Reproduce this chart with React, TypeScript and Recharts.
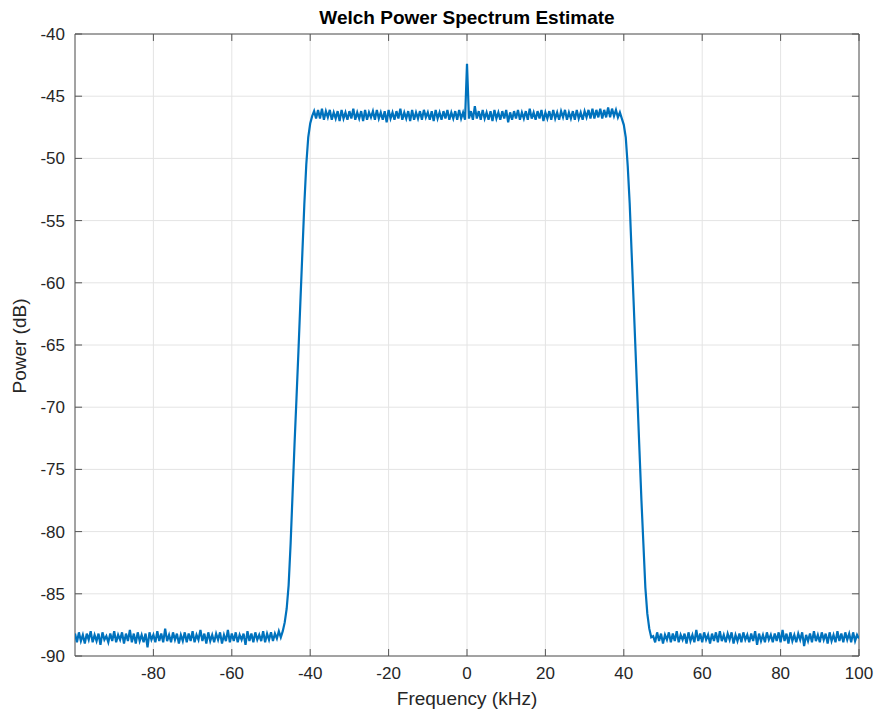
import {
  LineChart,
  Line,
  XAxis,
  YAxis,
  CartesianGrid,
  ReferenceArea,
  ReferenceLine,
} from "recharts";

// frequency spacing of the estimate (kHz)
const FREQ_STEP = 0.5;

// noise floor below the band, starting at -100 kHz
const floorLeft = [
  -88.2, -88.9, -88.1, -88.8, -88.3, -89.0, -88.2, -88.7, -88.0, -88.9,
  -88.3, -88.8, -88.2, -89.1, -88.1, -88.7, -88.4, -88.9, -88.2, -88.8,
  -88.0, -88.9, -88.3, -88.7, -88.1, -89.0, -88.2, -88.8, -87.9, -88.9,
  -88.2, -89.0, -88.1, -88.8, -88.3, -88.9, -88.2, -89.3, -88.1, -88.7,
  -88.3, -88.9, -88.0, -88.8, -88.2, -88.9, -87.8, -88.8, -88.3, -88.9,
  -88.1, -88.7, -88.2, -89.0, -88.3, -88.8, -88.1, -88.9, -88.2, -88.8,
  -88.0, -88.9, -88.3, -88.7, -87.9, -88.8, -88.2, -89.0, -88.1, -88.8,
  -88.3, -88.9, -88.2, -88.7, -88.1, -89.0, -88.3, -88.8, -87.9, -88.9,
  -88.2, -88.8, -88.1, -88.9, -88.3, -88.7, -88.2, -89.1, -88.0, -88.8,
  -88.2, -88.9, -88.1, -88.7, -88.3, -88.8, -88.0, -88.9, -88.2, -88.7,
  -88.1, -88.8, -88.2, -88.6, -88.0, -88.5,
];

// rising edge, starting at -47 kHz
const edgeLeft = [
  -88.0, -87.3, -86.2, -84.3, -81.0, -77.0, -73.0, -69.3, -65.5, -61.5,
  -57.6, -53.7, -50.5, -48.3, -47.2, -46.6, -46.2, -46.8,
];

// passband, starting at -38 kHz (carrier spike at 0)
const passband = [
  -46.1, -46.8, -46.0, -46.9, -46.2, -46.7, -46.1, -46.9, -46.3, -46.8,
  -46.2, -47.0, -46.1, -46.8, -46.3, -46.9, -46.2, -46.8, -46.0, -46.9,
  -46.3, -46.8, -46.2, -47.0, -46.1, -46.9, -46.3, -46.7, -46.2, -46.9,
  -46.1, -46.8, -46.3, -46.9, -46.2, -47.1, -46.1, -46.8, -46.3, -46.9,
  -46.2, -46.8, -46.0, -46.9, -46.3, -46.8, -46.2, -47.0, -46.1, -46.9,
  -46.3, -46.8, -46.2, -46.9, -46.1, -46.7, -46.3, -46.9, -46.2, -47.0,
  -46.1, -46.8, -46.3, -46.9, -46.2, -46.8, -46.1, -46.9, -46.3, -46.8,
  -46.2, -46.9, -46.1, -46.8, -46.3, -46.9, -42.4, -46.8, -46.2, -46.9,
  -45.8, -46.8, -46.2, -46.9, -46.1, -46.8, -46.3, -46.9, -46.2, -47.0,
  -46.1, -46.8, -46.3, -46.9, -46.2, -46.8, -46.1, -47.1, -46.3, -46.9,
  -46.2, -46.8, -46.1, -46.9, -46.3, -46.8, -46.2, -46.9, -46.0, -46.8,
  -46.3, -46.9, -46.2, -46.8, -46.1, -47.0, -46.3, -46.8, -46.2, -46.9,
  -46.1, -46.8, -46.3, -46.9, -46.2, -46.7, -46.1, -46.9, -46.3, -46.8,
  -46.2, -46.9, -46.1, -46.8, -46.3, -46.9, -46.2, -46.7, -46.1, -46.8,
  -46.0, -46.8, -46.1, -46.7, -46.0, -46.8, -46.1, -46.7, -45.9, -46.7,
  -46.0, -46.6, -46.1, -46.7,
];

// falling edge, starting at 39 kHz
const edgeRight = [
  -46.3, -46.8, -47.3, -48.3, -50.6, -53.6, -57.6, -61.5, -65.5, -69.5,
  -73.5, -77.5, -81.0, -84.5, -86.6, -87.8, -88.5,
];

// noise floor above the band, starting at 47.5 kHz
const floorRight = [
  -88.4, -88.9, -88.1, -88.8, -88.2, -89.0, -88.3, -88.7, -88.1, -88.9,
  -88.2, -88.8, -88.0, -88.9, -88.3, -88.7, -88.2, -89.0, -88.1, -88.8,
  -88.3, -88.9, -87.9, -88.8, -88.2, -88.9, -88.1, -88.7, -88.3, -89.0,
  -88.2, -88.8, -88.1, -88.9, -88.0, -88.8, -88.3, -88.9, -88.2, -88.7,
  -88.1, -89.0, -88.3, -88.8, -88.2, -88.9, -88.1, -88.7, -88.3, -88.9,
  -88.2, -88.8, -88.0, -89.1, -88.2, -88.8, -88.3, -88.9, -88.1, -88.7,
  -88.3, -88.9, -88.2, -88.8, -88.1, -88.9, -87.9, -88.8, -88.2, -89.0,
  -88.1, -88.8, -88.3, -88.9, -88.2, -88.7, -88.1, -89.2, -88.3, -88.8,
  -88.2, -88.9, -88.0, -88.8, -88.3, -88.9, -88.1, -88.7, -88.2, -89.0,
  -88.1, -88.8, -88.3, -88.9, -88.0, -88.8, -88.2, -88.9, -88.1, -88.7,
  -88.2, -88.9, -88.1, -88.8, -88.3, -88.6,
];

const segments = [
  { start: -100, values: floorLeft },
  { start: -47, values: edgeLeft },
  { start: -38, values: passband },
  { start: 39, values: edgeRight },
  { start: 47.5, values: floorRight },
];

const X_TICKS = [-80, -60, -40, -20, 0, 20, 40, 60, 80, 100];
const Y_TICKS = [-90, -85, -80, -75, -70, -65, -60, -55, -50, -45, -40];

const data = segments.flatMap((s) =>
  s.values.map((p, i) => ({ f: s.start + i * FREQ_STEP, p }))
);

const AXIS = "#555555";
const TEXT = "#262626";
const FONT = "'Liberation Sans', Arial, Helvetica, sans-serif";
// inward tick length in data units (~7px)
const TICK_DX = 1.8;
const TICK_DY = 0.56;

export default function App() {
  return (
    <div
      style={{
        position: "absolute",
        left: 0,
        top: 0,
        width: 877,
        height: 719,
        background: "#fff",
        fontFamily: FONT,
      }}
    >
      <div
        style={{
          position: "absolute",
          left: 467,
          top: 18,
          transform: "translate(-50%, -50%)",
          fontWeight: "bold",
          fontSize: 19,
          color: "#000",
          whiteSpace: "nowrap",
        }}
      >
        Welch Power Spectrum Estimate
      </div>
      <div
        style={{
          position: "absolute",
          left: 20,
          top: 346,
          transform: "translate(-50%, -50%) rotate(-90deg)",
          fontSize: 19,
          color: TEXT,
          whiteSpace: "nowrap",
        }}
      >
        Power (dB)
      </div>
      <LineChart
        width={877}
        height={719}
        data={data}
        margin={{ top: 34, right: 18, left: 0, bottom: 0 }}
      >
        <CartesianGrid stroke="#e4e4e4" strokeWidth={1} />
        <XAxis
          type="number"
          dataKey="f"
          domain={[-100, 100]}
          ticks={X_TICKS}
          allowDataOverflow
          height={63}
          axisLine={false}
          tickLine={false}
          tickSize={0}
          tickMargin={11}
          tick={{ fill: TEXT, fontSize: 17, fontFamily: FONT }}
          label={{
            value: "Frequency (kHz)",
            position: "insideBottom",
            offset: 14,
            fill: TEXT,
            fontSize: 19,
            fontFamily: FONT,
          }}
        />
        <YAxis
          type="number"
          domain={[-90, -40]}
          ticks={Y_TICKS}
          allowDataOverflow
          width={75}
          axisLine={false}
          tickLine={false}
          tickSize={0}
          tickMargin={10}
          tick={{ fill: TEXT, fontSize: 17, fontFamily: FONT }}
        />
        <ReferenceArea
          x1={-100}
          x2={100}
          y1={-90}
          y2={-40}
          fill="none"
          stroke={AXIS}
          strokeWidth={1}
        />
        {X_TICKS.map((t) => (
          <ReferenceLine
            key={`xb${t}`}
            segment={[
              { x: t, y: -90 },
              { x: t, y: -90 + TICK_DY },
            ]}
            stroke={AXIS}
          />
        ))}
        {X_TICKS.map((t) => (
          <ReferenceLine
            key={`xt${t}`}
            segment={[
              { x: t, y: -40 },
              { x: t, y: -40 - TICK_DY },
            ]}
            stroke={AXIS}
          />
        ))}
        {Y_TICKS.map((t) => (
          <ReferenceLine
            key={`yl${t}`}
            segment={[
              { x: -100, y: t },
              { x: -100 + TICK_DX, y: t },
            ]}
            stroke={AXIS}
          />
        ))}
        {Y_TICKS.map((t) => (
          <ReferenceLine
            key={`yr${t}`}
            segment={[
              { x: 100, y: t },
              { x: 100 - TICK_DX, y: t },
            ]}
            stroke={AXIS}
          />
        ))}
        <Line
          type="linear"
          dataKey="p"
          stroke="#0072BD"
          strokeWidth={2.2}
          dot={false}
          isAnimationActive={false}
        />
      </LineChart>
    </div>
  );
}
